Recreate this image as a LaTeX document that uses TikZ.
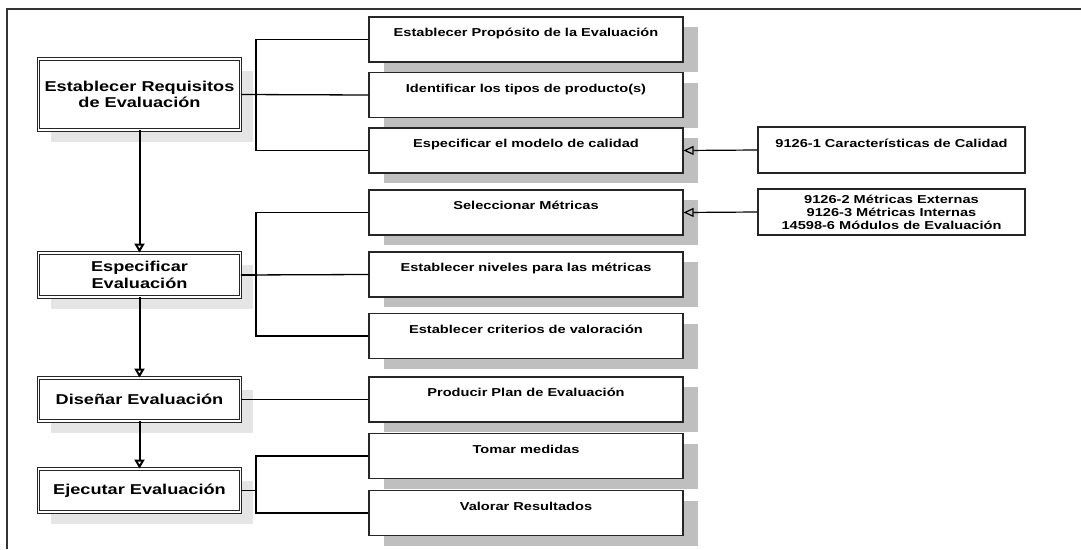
\documentclass[tikz,border=0pt]{standalone}
\usepackage{fontspec}
\setmainfont{Liberation Sans}[FakeStretch=1.27]
\usetikzlibrary{arrows.meta,shadows}

\tikzset{
	paso/.style={draw=black!85, line width=0.9pt, double=white, double distance=1.5pt, fill=white,
		minimum width=202pt, align=center, font=\fontsize{14.3}{16.5}\selectfont\bfseries,
		drop shadow={shadow xshift=12pt, shadow yshift=-12pt, fill=black!10, opacity=1}},
	tarea/.style={draw=black!85, line width=1.1pt, fill=white, minimum width=314pt, minimum height=45pt,
		text height=9pt, text depth=15pt, font=\fontsize{11.5}{13}\selectfont\bfseries,
		drop shadow={shadow xshift=15pt, shadow yshift=-10pt, fill=black!25, opacity=1}},
	norma/.style={draw=black!85, line width=1.1pt, fill=white, minimum width=267pt, minimum height=46pt,
		align=center, font=\fontsize{11.5}{13}\selectfont\bfseries},
	arriba/.style={text height=9pt, text depth=15pt},
	flecha/.style={line width=2pt, -{Triangle[open, length=9pt, width=10pt]}},
	flechafina/.style={line width=1.2pt, -{Triangle[open, length=10pt, width=9pt]}},
	enlace/.style={line width=1.3pt},
}

\begin{document}
\begin{tikzpicture}[x=1pt, y=-1pt]
			%%%%% START %%%%%
			\useasboundingbox (0,0) rectangle (1081,549);
			
			% marco
			\draw[line width=1.5pt, black!80] (1081,9) -- (7,9) -- (7,549);
			
			% pasos
			\node[paso, minimum height=71pt] (requisitos) at (139.5,94.5) {Establecer Requisitos\\de Evaluación};
			\node[paso, minimum height=44pt] (especificar) at (139.5,275) {Especificar\\Evaluación};
			\node[paso, minimum height=43pt] (disenar) at (139.5,399.5) {Diseñar Evaluación};
			\node[paso, minimum height=43pt] (ejecutar) at (139.5,490.5) {Ejecutar Evaluación};
			
			% tareas
			\node[tarea] (proposito) at (526,39.5) {Establecer Propósito de la Evaluación};
			\node[tarea] (tipos) at (526,95) {Identificar los tipos de producto(s)};
			\node[tarea] (modelo) at (526,150.5) {Especificar el modelo de calidad};
			\node[tarea] (metricas) at (526,212.5) {Seleccionar Métricas};
			\node[tarea] (niveles) at (526,274.5) {Establecer niveles para las métricas};
			\node[tarea] (criterios) at (526,336) {Establecer criterios de valoración};
			\node[tarea] (plan) at (526,399.5) {Producir Plan de Evaluación};
			\node[tarea] (medidas) at (526,456) {Tomar medidas};
			\node[tarea] (resultados) at (526,513) {Valorar Resultados};
			
			% normas
			\node[norma, arriba] (caracteristicas) at (891.5,150) {9126-1 Características de Calidad};
			\node[norma] (externas) at (891.5,212) {9126-2 Métricas Externas\\9126-3 Métricas Internas\\14598-6 Módulos de Evaluación};
			
			% flechas entre pasos
			\draw[flecha] (requisitos.south) -- (especificar.north);
			\draw[flecha] (especificar.south) -- (disenar.north);
			\draw[flecha] (disenar.south) -- (ejecutar.north);
			
			% llaves
			\draw[enlace] (requisitos.east) -- ++(15,0) |- (proposito.west);
			\draw[enlace] (requisitos.east) -- ++(15,0) |- (modelo.west);
			\draw[enlace] (requisitos.east) -- (tipos.west);
			
			\draw[enlace] (especificar.east) -- ++(15,0) |- (metricas.west);
			\draw[enlace] (especificar.east) -- ++(15,0) |- (criterios.west);
			\draw[enlace] (especificar.east) -- (niveles.west);
			
			\draw[enlace] (disenar.east) -- (plan.west);
			
			\draw[enlace] (ejecutar.east) -- ++(15,0) |- (medidas.west);
			\draw[enlace] (ejecutar.east) -- ++(15,0) |- (resultados.west);
			
			% entradas
			\draw[flechafina] (caracteristicas.west) -- (modelo.east);
			\draw[flechafina] (externas.west) -- (metricas.east);
			
			%%%%% END %%%%%
\end{tikzpicture}
\end{document}
